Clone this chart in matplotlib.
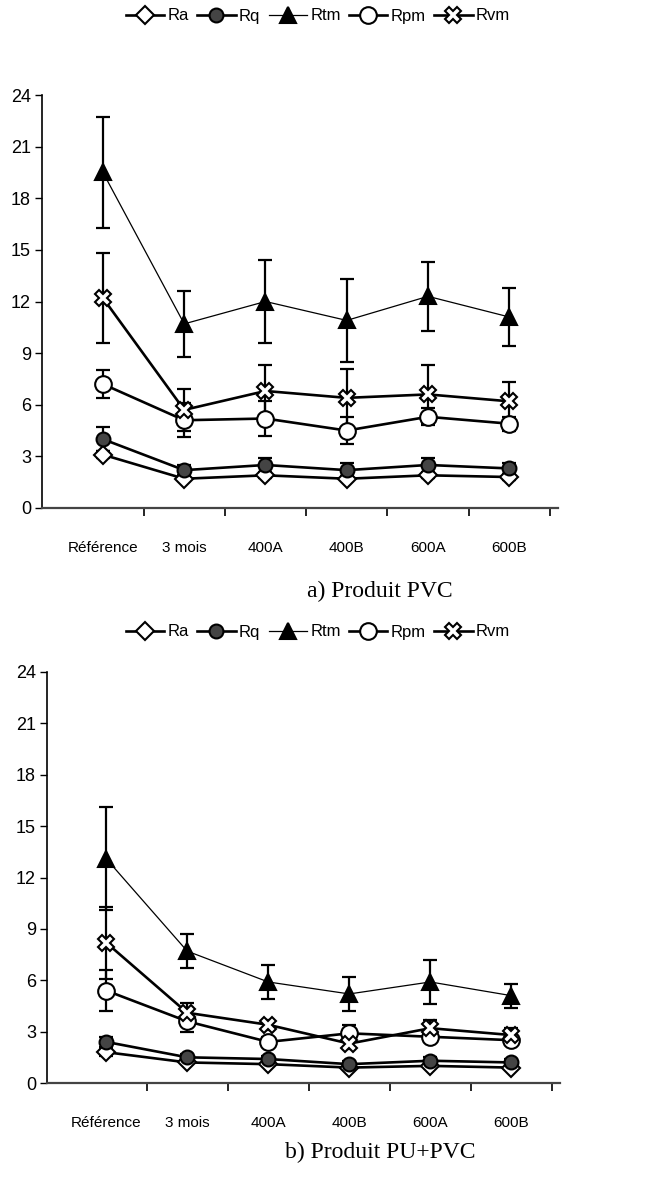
import matplotlib.pyplot as plt
import numpy as np

categories = ['Référence', '3 mois', '400A', '400B', '600A', '600B']
series = ['Ra', 'Rq', 'Rtm', 'Rpm', 'Rvm']

# a) Produit PVC
pvc_ra = [3.1, 1.7, 1.9, 1.7, 1.9, 1.8]
pvc_ra_err = [0.2, 0.15, 0.15, 0.15, 0.15, 0.15]
pvc_rq = [4.0, 2.2, 2.5, 2.2, 2.5, 2.3]
pvc_rq_err = [0.7, 0.3, 0.4, 0.4, 0.4, 0.3]
pvc_rtm = [19.5, 10.7, 12.0, 10.9, 12.3, 11.1]
pvc_rtm_err = [3.2, 1.9, 2.4, 2.4, 2.0, 1.7]
pvc_rpm = [7.2, 5.1, 5.2, 4.5, 5.3, 4.9]
pvc_rpm_err = [0.8, 1.0, 1.0, 0.8, 0.5, 0.4]
pvc_rvm = [12.2, 5.7, 6.8, 6.4, 6.6, 6.2]
pvc_rvm_err = [2.6, 1.2, 1.5, 1.7, 1.7, 1.1]

# b) Produit PU+PVC
pu_ra = [1.8, 1.2, 1.1, 0.9, 1.0, 0.9]
pu_ra_err = [0.2, 0.1, 0.1, 0.1, 0.1, 0.1]
pu_rq = [2.4, 1.5, 1.4, 1.1, 1.3, 1.2]
pu_rq_err = [0.3, 0.2, 0.2, 0.2, 0.2, 0.2]
pu_rtm = [13.1, 7.7, 5.9, 5.2, 5.9, 5.1]
pu_rtm_err = [3.0, 1.0, 1.0, 1.0, 1.3, 0.7]
pu_rpm = [5.4, 3.6, 2.4, 2.9, 2.7, 2.5]
pu_rpm_err = [1.2, 0.6, 0.3, 0.5, 0.3, 0.3]
pu_rvm = [8.2, 4.1, 3.4, 2.3, 3.2, 2.8]
pu_rvm_err = [2.1, 0.6, 0.3, 0.3, 0.5, 0.4]

styles = {
    'Ra':  dict(marker='D', ms=9, mfc='white', lw=1.9),
    'Rq':  dict(marker='o', ms=10, mfc='#444444', lw=1.9),
    'Rtm': dict(marker='^', ms=12, mfc='black', lw=0.9),
    'Rpm': dict(marker='o', ms=12, mfc='white', lw=1.9),
    'Rvm': dict(marker='X', ms=11, mfc='white', lw=1.9),
}

plt.rcParams['font.family'] = ['Liberation Sans', 'DejaVu Sans']
fig = plt.figure(figsize=(6.61, 11.8), dpi=100)
W, H = 661, 1180


def make_ax(left, right, y0, y24):
    return fig.add_axes([left / W, 1 - y0 / H, (right - left) / W, (y0 - y24) / H])


def draw(ax, data, xlo, caption, cap_y, leg_y):
    x = np.arange(len(categories))
    handles = []
    for name, (vals, errs) in zip(series, data):
        st = styles[name]
        ax.errorbar(x, vals, yerr=errs, fmt='none', ecolor='black',
                    elinewidth=1.6, capsize=5, capthick=1.6, zorder=2)
        h, = ax.plot(x, vals, color='black', lw=st['lw'], marker=st['marker'],
                     ms=st['ms'], mfc=st['mfc'], mec='black', mew=1.5, zorder=3)
        handles.append(h)
    ax.set_xlim(xlo, 5.6)
    ax.set_ylim(0, 24)
    ax.set_yticks(np.arange(0, 25, 3))
    ax.set_xticks(x)
    ax.set_xticklabels(categories, fontsize=11)
    ax.set_xticks(np.arange(0.5, 6, 1), minor=True)
    ax.tick_params(axis='x', which='major', length=0, pad=24)
    ax.tick_params(axis='x', which='minor', length=6, width=1.2, direction='out')
    ax.tick_params(axis='y', labelsize=13, length=5, width=1, pad=3)
    for s in ['top', 'right']:
        ax.spines[s].set_visible(False)
    ax.spines['left'].set_linewidth(1.2)
    ax.spines['bottom'].set_linewidth(1.6)
    ax.spines['bottom'].set_color('#444444')
    fig.text(380 / W, 1 - cap_y / H, caption, ha='center', va='center',
             fontsize=17, family='Liberation Serif')
    fig.legend(handles, series, loc='center', bbox_to_anchor=(318 / W, 1 - leg_y / H),
               ncol=5, frameon=False, fontsize=12, handlelength=2.3,
               handletextpad=0.2, columnspacing=0.5, borderpad=0)


# top: y-axis at 42 px, categories 81.2 px apart starting at 103 px
ax1 = make_ax(42, 558, 508, 95)
draw(ax1, [(pvc_ra, pvc_ra_err), (pvc_rq, pvc_rq_err), (pvc_rtm, pvc_rtm_err),
           (pvc_rpm, pvc_rpm_err), (pvc_rvm, pvc_rvm_err)],
     -0.75, 'a) Produit PVC', 591, 16)

ax2 = make_ax(47, 560, 1083, 672)
draw(ax2, [(pu_ra, pu_ra_err), (pu_rq, pu_rq_err), (pu_rtm, pu_rtm_err),
           (pu_rpm, pu_rpm_err), (pu_rvm, pu_rvm_err)],
     -0.73, 'b) Produit PU+PVC', 1152, 632)

fig.savefig('out.png', dpi=100)
